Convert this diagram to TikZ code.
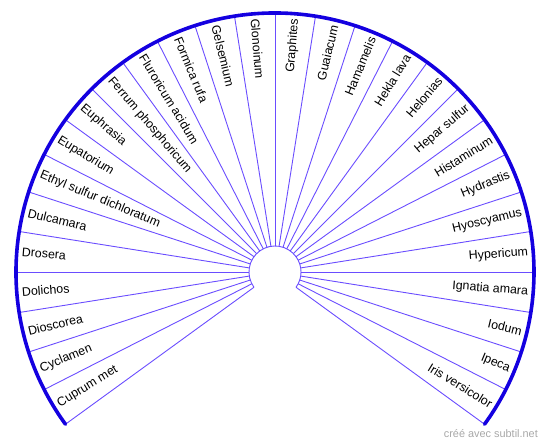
\documentclass[tikz,border=0pt]{standalone}
\usepackage{fontspec}
\setmainfont{Liberation Sans}
\usetikzlibrary{positioning}
\definecolor{fanblue}{HTML}{1400E0}
\definecolor{spokeblue}{HTML}{6A4DFF}
\definecolor{markgray}{gray}{0.66}
\tikzset{
  rim/.style   = {draw=fanblue, line width=3.6pt, line cap=round},
  spoke/.style = {draw=spokeblue, line width=0.9pt},
  hub/.style   = {draw=spokeblue, line width=0.9pt},
  lab/.style   = {font=\fontsize{12.4}{14}\selectfont, inner sep=0pt},
  wmark/.style = {font=\fontsize{10.9}{12}\selectfont, text=markgray, inner sep=0pt},
}
\begin{document}
\begin{tikzpicture}[x=1pt, y=1pt]
  \useasboundingbox (0,0) rectangle (550,447);
  \coordinate (hubc) at (275,175);
  \begin{scope}[shift={(hubc)}]
    \foreach \k in {0,...,28}{%
      \pgfmathsetmacro\a{216-9*\k}
      \coordinate (in\k) at (\a:26);
      \coordinate (out\k) at (\a:259);
      \draw[spoke] (in\k) -- (out\k);}
    \draw[hub] (216:26) arc[start angle=216, end angle=-36, radius=26];
    \draw[rim] (216:259) arc[start angle=216, end angle=-36, radius=259];
    \foreach \txt [count=\k from 0] in {Cuprum met, Cyclamen, Dioscorea, Dolichos,
        Drosera, Dulcamara, Ethyl sulfur dichloratum, Eupatorium, Euphrasia,
        Ferrum phosphoricum, Fluroricum acidum, Formica rufa, Gelsemium, Glonoinum,
        Graphites, Guaiacum, Hamamelis, Hekla lava, Helonias, Hepar sulfur,
        Histaminum, Hydrastis, Hyoscyamus, Hypericum, Ignatia amara, Iodum, Ipeca,
        Iris versicolor}{%
      \pgfmathsetmacro\a{211.5-9*\k}
      \ifnum\k<14
        \node[lab, anchor=west, rotate=\a-180] (lab\k) at (\a:254) {\txt};
      \else
        \node[lab, anchor=east, rotate=\a] (lab\k) at (\a:254) {\txt};
      \fi}
  \end{scope}
  \node[wmark, anchor=base east] (credit) at (538,9) {créé avec subtil.net};
\end{tikzpicture}
\end{document}
